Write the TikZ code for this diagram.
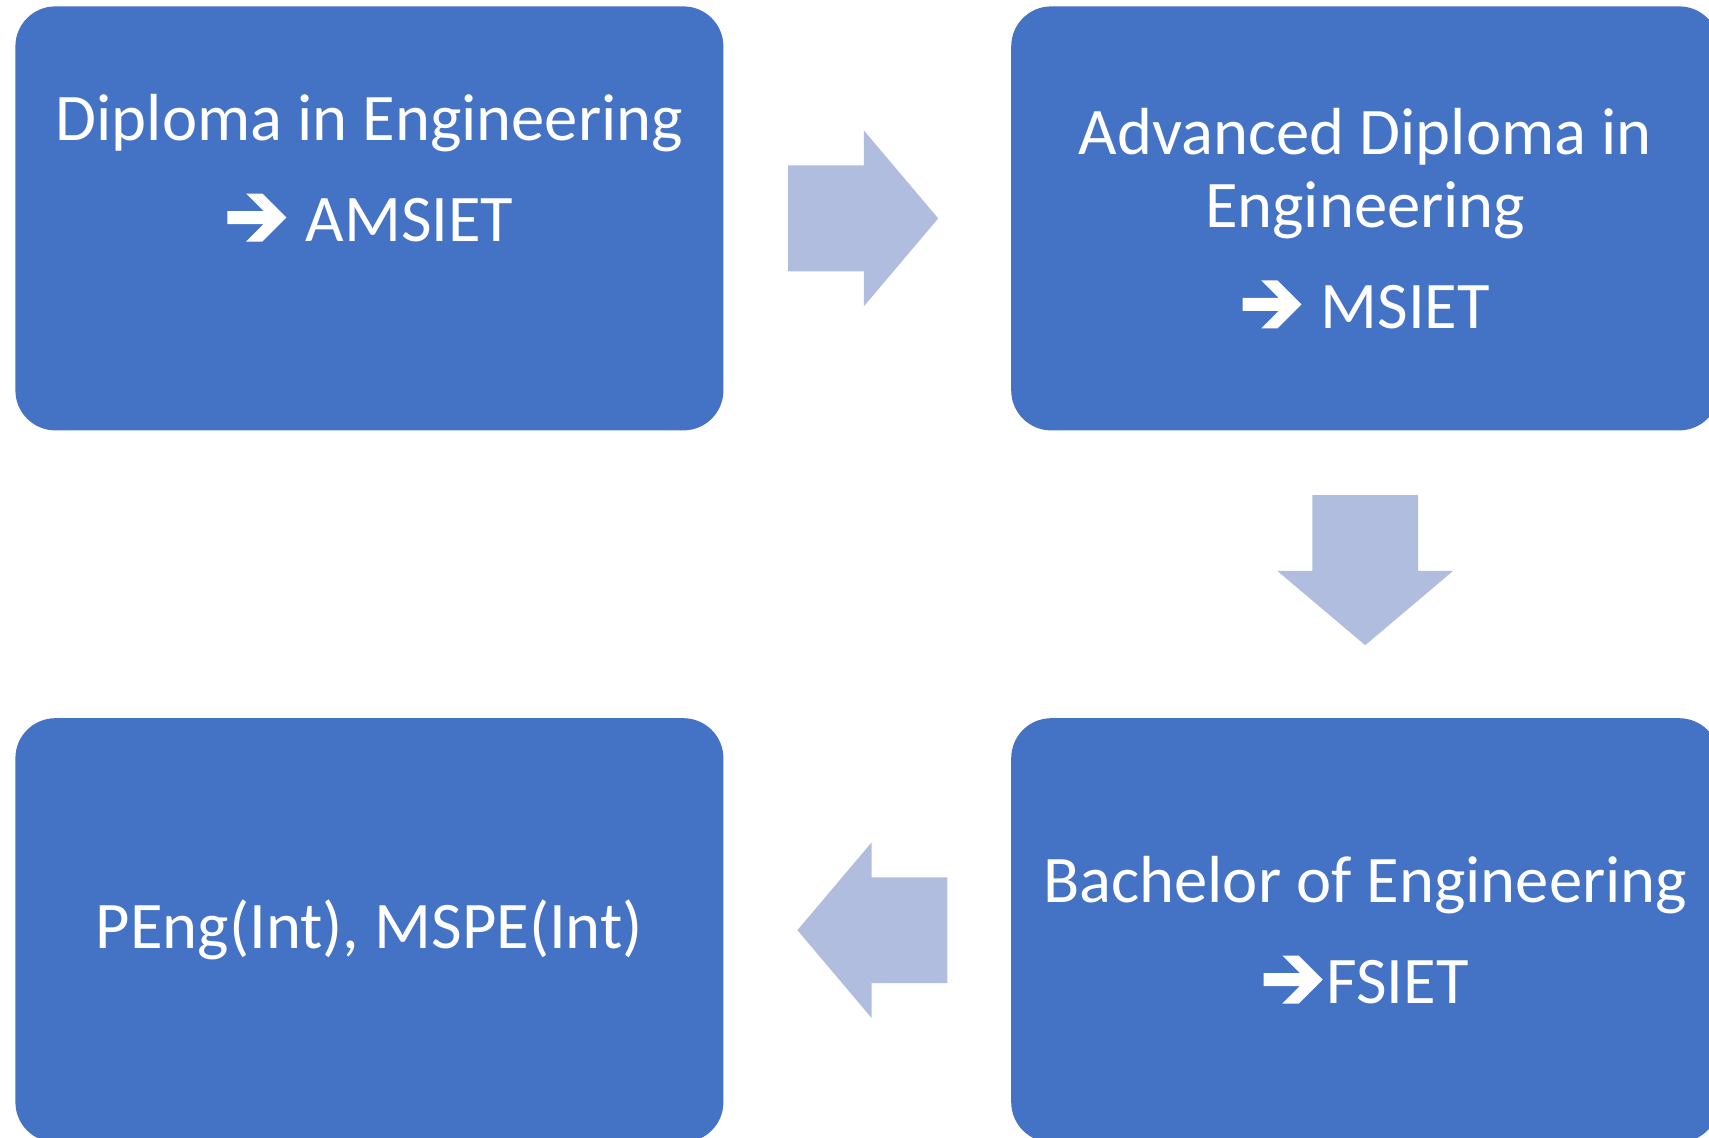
\documentclass[tikz,border=0pt]{standalone}
\usepackage{fontspec}
\setmainfont{Carlito}
\usepackage{tikz}
\usetikzlibrary{shapes.arrows, positioning}

\definecolor{boxblue}{HTML}{4472C4}
\definecolor{arrowblue}{RGB}{176,189,222}

% white pointer in front of the membership grade
\newcommand{\goesto}{\tikz[baseline={(0,-12pt)}, sharp corners]{\fill[white] (1pt,3.25pt) -- (19.1pt,3.25pt) -- (10.35pt,12pt) -- (18.5pt,12pt) -- (30.5pt,0) -- (18.5pt,-12pt) -- (10.35pt,-12pt) -- (19.1pt,-3.25pt) -- (1pt,-3.25pt) -- cycle; \path (0,0) (32.5pt,0);}}

\tikzset{
  stagebox/.style={rectangle, rounded corners=20pt, fill=boxblue, text=white, minimum width=354pt, minimum height=212pt, inner sep=0pt, align=center, font=\fontsize{33.3}{36.5}\selectfont},
  flowarrow/.style={single arrow, fill=arrowblue, minimum height=75pt, minimum width=87.5pt, single arrow head extend=17.5pt, single arrow tip angle=99.6, inner xsep=0pt, inner ysep=26.25pt}
}

\begin{document}
\begin{tikzpicture}
\useasboundingbox (0,0) rectangle (854.5pt,-569pt);

\node[stagebox, anchor=north west] (diploma) at (7.5pt,-3pt) {Diploma in Engineering\\[14pt]\goesto{} AMSIET\\[14pt]\mbox{}};
\node[stagebox, right=143.5pt of diploma] (advdip) {Advanced Diploma in\\Engineering\\[14pt]\goesto{} MSIET};
\node[stagebox, below=143.5pt of advdip] (bachelor) {Bachelor of Engineering\\[14pt]\goesto{}FSIET};
\node[stagebox, left=143.5pt of bachelor] (peng) {PEng(Int), MSPE(Int)};

\node[flowarrow, right=32pt of diploma, anchor=tail] (arrowA) {};
\node[flowarrow, rotate=-90, below=32pt of advdip, anchor=tail] (arrowB) {};
\node[flowarrow, rotate=180, left=31.5pt of bachelor, anchor=tail] (arrowC) {};
\end{tikzpicture}
\end{document}
